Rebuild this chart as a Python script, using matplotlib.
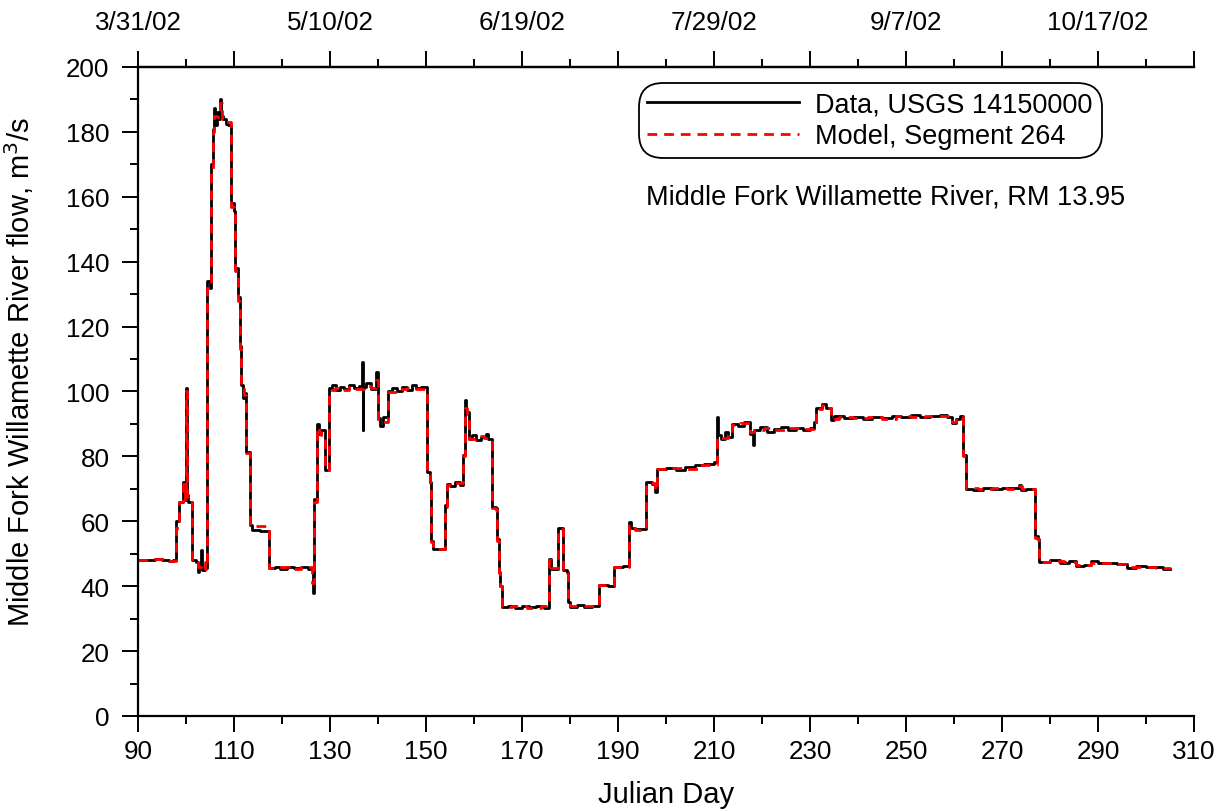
import matplotlib
matplotlib.use("Agg")
import matplotlib.pyplot as plt
from matplotlib.ticker import FixedLocator

plt.rcParams['font.family'] = ['Liberation Sans', 'DejaVu Sans']

# Observed flow, USGS 14150000 (Julian day, m3/s), step values
data_day = [90.0, 92.0, 93.5, 95.0, 96.5, 97.2, 98.0, 98.5, 99.3, 99.8, 100.0, 100.15, 100.5,
            101.2, 102.0, 102.4, 102.8, 103.1, 103.4, 104.0, 104.45, 104.9, 105.3, 105.6, 105.9,
            106.1, 106.5, 106.8, 107.0, 107.3, 107.8, 108.3, 108.8, 109.4, 109.9, 110.3, 110.8,
            111.2, 111.5, 111.8, 112.1, 112.5, 113.4, 113.8, 115.5, 117.2, 118.5, 119.5, 121.0,
            122.5, 124.0, 125.5, 126.5, 126.7, 127.2, 127.6, 128.2, 128.9, 129.8, 130.5, 131.2,
            132.0, 133.0, 134.0, 135.0, 136.0, 136.7, 136.8, 136.9, 137.5, 138.5, 139.5, 139.9,
            140.5, 141.0, 142.1, 143.0, 144.0, 145.0, 146.0, 147.0, 148.0, 149.0, 150.1, 150.3,
            150.8, 151.0, 151.4, 153.9, 154.3, 155.0, 156.0, 157.0, 157.8, 158.2, 158.4, 158.9,
            159.5, 160.5, 161.5, 162.5, 163.0, 163.7, 164.5, 164.8, 165.1, 165.5, 165.8, 167.0,
            168.5, 170.0, 171.5, 173.0, 174.5, 175.7, 176.1, 177.5, 178.6, 179.4, 179.6, 180.0,
            181.5, 183.0, 184.5, 186.1, 188.0, 189.2, 191.0, 192.2, 192.7, 193.5, 195.8, 197.0,
            197.6, 198.2, 200.0, 202.0, 204.0, 206.0, 208.0, 210.0, 210.6, 210.8, 211.5, 212.3,
            213.0, 213.7, 215.0, 216.3, 217.5, 218.2, 218.4, 219.5, 221.0, 222.5, 224.0, 225.5,
            227.0, 228.5, 230.0, 230.8, 231.3, 232.5, 233.3, 234.4, 235.0, 237.0, 239.0, 241.0,
            243.0, 245.0, 247.0, 249.0, 251.0, 253.0, 255.0, 257.0, 258.5, 259.5, 260.5, 261.3,
            261.9, 262.6, 264.0, 266.0, 268.0, 270.0, 272.0, 273.5, 274.0, 275.0, 276.8, 277.4,
            277.8, 280.0, 282.0, 284.0, 285.5, 287.0, 288.5, 290.0, 292.0, 294.0, 296.0, 298.0,
            300.0, 302.0, 303.5, 305.0]
data_flow = [48.2, 48.0, 48.4, 48.1, 47.8, 48.2, 60.0, 66.0, 72.0, 66.5, 101.0, 68.0, 66.0,
             48.0, 47.5, 44.5, 47.0, 51.0, 45.0, 45.5, 134.0, 132.0, 170.0, 181.0, 187.5,
             182.0, 186.0, 184.0, 190.0, 185.0, 184.0, 182.5, 182.0, 158.0, 155.5, 138.0, 129.0,
             114.0, 102.0, 98.0, 99.5, 81.5, 59.0, 57.3, 57.0, 45.5, 46.0, 45.3, 46.0,
             45.6, 45.9, 45.4, 37.8, 67.0, 90.0, 87.0, 88.0, 75.7, 101.0, 102.0, 100.5,
             101.5, 100.8, 102.0, 101.0, 101.7, 109.0, 88.0, 101.5, 102.5, 100.8, 106.0, 91.7,
             89.5, 92.0, 100.0, 101.0, 100.3, 101.5, 100.6, 102.0, 101.0, 101.5, 99.5, 75.2,
             72.0, 54.0, 51.5, 65.0, 71.6, 71.0, 72.0, 71.2, 80.3, 97.5, 93.7, 85.5,
             86.5, 85.2, 86.0, 87.0, 85.5, 64.4, 64.0, 54.6, 44.3, 40.2, 33.5, 34.0,
             33.3, 34.0, 33.5, 33.9, 33.4, 48.5, 45.4, 58.0, 45.0, 44.3, 35.0, 33.7,
             34.2, 33.6, 34.0, 40.5, 40.0, 45.9, 46.2, 59.8, 58.0, 57.5, 72.1, 71.5,
             69.0, 76.2, 76.4, 75.8, 76.6, 77.2, 77.5, 78.3, 92.0, 86.5, 85.5, 87.5,
             86.0, 90.1, 89.5, 90.5, 87.0, 83.6, 88.0, 89.0, 87.6, 88.5, 89.2, 88.0,
             88.8, 88.2, 88.6, 90.5, 95.0, 96.2, 95.0, 91.2, 92.3, 91.8, 92.0, 91.5,
             92.2, 91.7, 92.4, 92.0, 92.6, 92.2, 92.5, 92.7, 92.2, 90.2, 91.5, 92.5,
             80.3, 70.0, 69.5, 70.3, 70.0, 70.4, 70.2, 71.2, 69.5, 70.0, 55.6, 54.6,
             47.5, 48.0, 47.3, 47.9, 46.2, 46.5, 47.8, 47.0, 47.2, 46.8, 45.6, 46.2,
             45.8, 46.0, 45.3, 45.3]

# Simulated flow, model segment 264
model_day = [90.0, 93.0, 96.0, 98.0, 98.6, 99.3, 99.8, 100.0, 100.15, 100.5, 101.2, 102.5,
             103.2, 104.0, 104.45, 104.9, 105.3, 105.6, 105.9, 106.5, 107.0, 107.4, 108.2,
             109.4, 109.9, 110.3, 110.8, 111.2, 111.5, 112.0, 112.5, 113.4, 117.2, 119.0,
             121.5, 124.0, 126.3, 126.7, 127.2, 127.6, 128.2, 128.9, 129.8, 131.0, 132.5,
             134.0, 135.5, 137.0, 138.5, 139.5, 139.9, 141.0, 142.1, 144.0, 146.0, 148.0,
             150.1, 150.3, 150.8, 151.0, 151.4, 153.9, 154.3, 156.0, 157.8, 158.2, 158.6,
             158.9, 160.5, 162.0, 163.7, 164.5, 164.8, 165.1, 165.5, 165.8, 168.0, 171.0,
             174.0, 175.7, 176.1, 177.5, 178.6, 179.4, 179.6, 180.0, 183.0, 186.1, 189.2,
             192.2, 192.7, 193.5, 195.8, 197.6, 198.2, 201.0, 204.0, 207.0, 210.6, 211.5,
             213.0, 213.7, 215.5, 217.5, 218.4, 220.5, 223.0, 225.5, 228.0, 230.8, 231.3,
             232.5, 233.5, 234.4, 236.0, 239.0, 242.0, 245.0, 248.0, 251.0, 254.0, 257.0,
             259.5, 260.5, 261.3, 261.9, 262.6, 265.0, 268.0, 271.0, 273.5, 274.2, 276.8,
             277.4, 277.8, 280.0, 283.0, 285.5, 288.5, 291.0, 294.0, 296.0, 299.0, 302.0,
             305.0]
model_flow = [48.0, 48.3, 47.9, 58.0, 66.0, 71.5, 67.0, 100.0, 67.5, 66.0, 47.8, 46.0,
              47.5, 45.3, 132.0, 133.0, 168.0, 180.0, 185.0, 184.5, 189.0, 184.0, 183.0,
              157.0, 155.0, 137.0, 128.0, 113.0, 101.0, 99.0, 81.0, 58.5, 45.6, 45.9,
              45.3, 45.8, 41.0, 66.0, 89.0, 87.5, 86.5, 75.7, 100.5, 101.2, 100.6,
              101.5, 100.9, 101.8, 101.0, 103.5, 91.0, 90.5, 99.8, 100.8, 101.2, 100.7,
              99.0, 74.5, 71.5, 53.5, 51.5, 64.5, 71.3, 71.8, 80.0, 95.0, 93.0,
              85.5, 86.2, 85.6, 64.0, 63.5, 54.0, 44.0, 40.0, 33.6, 33.9, 33.4,
              33.8, 48.0, 45.5, 57.5, 45.2, 44.0, 35.0, 33.8, 34.0, 40.3, 45.8,
              59.0, 57.8, 57.3, 71.8, 69.5, 76.0, 76.3, 76.0, 77.3, 86.0, 85.8,
              86.8, 89.8, 90.3, 87.5, 88.2, 88.8, 88.0, 88.6, 88.3, 90.0, 94.5,
              95.8, 95.0, 91.5, 92.0, 91.8, 92.1, 91.6, 92.3, 92.0, 92.4, 92.5,
              90.5, 91.2, 92.0, 80.0, 70.2, 69.8, 70.2, 70.0, 70.8, 69.8, 55.0,
              54.3, 47.6, 47.8, 47.5, 46.4, 47.3, 47.0, 46.9, 45.8, 46.0, 45.5,
              45.3]

day_major = list(range(90, 311, 20))
day_minor = list(range(100, 310, 20))
date_ticks = [90, 130, 170, 210, 250, 290]
date_labels = ['3/31/02', '5/10/02', '6/19/02', '7/29/02', '9/7/02', '10/17/02']

fig = plt.figure(figsize=(12.25, 8.12), dpi=100)
ax = fig.add_axes([0.1127, 0.117, 0.8620, 0.7993])

ax.plot(data_day, data_flow, color='black', lw=2.0, drawstyle='steps-post',
        label='Data, USGS 14150000')
ax.plot(model_day, model_flow, color='red', lw=2.0, ls=(0, (3.5, 2.5)),
        drawstyle='steps-post', label='Model, Segment 264')

ax.set_xlim(90, 310)
ax.set_ylim(0, 200)
ax.xaxis.set_major_locator(FixedLocator(day_major))
ax.xaxis.set_minor_locator(FixedLocator(day_minor))
ax.yaxis.set_major_locator(FixedLocator(list(range(0, 201, 20))))
ax.yaxis.set_minor_locator(FixedLocator(list(range(10, 200, 20))))

for side in ['left', 'bottom', 'top']:
    ax.spines[side].set_linewidth(1.6)
ax.spines['right'].set_visible(False)

ax.tick_params(axis='both', which='major', direction='out', length=11.5, width=1.4,
               labelsize=18.7)
ax.tick_params(axis='both', which='minor', direction='out', length=6, width=1.4)
ax.tick_params(axis='x', which='major', pad=5)
ax.tick_params(axis='y', which='major', pad=9)

# top axis with calendar dates
top = ax.secondary_xaxis('top')
top.xaxis.set_major_locator(FixedLocator(day_major))
top.xaxis.set_minor_locator(FixedLocator(day_minor))
top.xaxis.set_major_formatter(
    plt.FuncFormatter(lambda v, p: date_labels[date_ticks.index(int(round(v)))]
                      if int(round(v)) in date_ticks else ''))
top.spines['top'].set_linewidth(1.6)
top.tick_params(which='major', direction='out', length=11.5, width=1.4, labelsize=18.7, pad=12)
top.tick_params(which='minor', direction='out', length=6, width=1.4)

ax.set_xlabel('Julian Day', fontsize=21, labelpad=12)
ax.set_ylabel('Middle Fork Willamette River flow, m$^3$/s', fontsize=21)
ax.yaxis.set_label_coords(-0.097, 0.532)

leg = ax.legend(loc='upper left', bbox_to_anchor=(0.476, 0.972), fontsize=19.5,
                handlelength=5.6, handletextpad=0.6, borderpad=0.25, labelspacing=0.2,
                borderaxespad=0.0, fancybox=True, framealpha=1, edgecolor='black')
leg.get_frame().set_linewidth(1.3)
leg.get_frame().set_boxstyle('round', pad=0.08, rounding_size=0.9)

ax.text(0.481, 0.801, 'Middle Fork Willamette River, RM 13.95', transform=ax.transAxes,
        fontsize=19.5, va='center', ha='left')

fig.savefig('out.png', dpi=100)
